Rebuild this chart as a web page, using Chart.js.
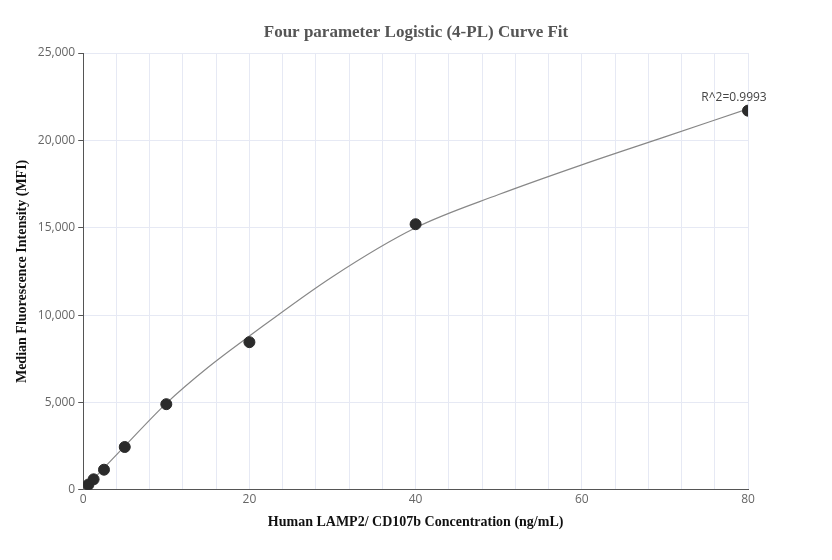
<!DOCTYPE html><html><head><script src="https://cdn.jsdelivr.net/npm/chart.js@4"></script>
<style>body{margin:0;background:#fff}#w{width:832px;height:560px}</style></head><body><div id="w"><canvas id="c"></canvas></div>
<script>
const concX=[0.625,1.25,2.5,5,10,20,40,80];
const mfiY=[300,600,1150,2450,4900,8450,15200,21700];
const curveX=[0,2.5,5,10,15,20,30,40,50,60,70,80];
const curveY=[0,1250,2500,4950,7000,8800,12200,15000,16900,18600,20200,21800];
const rLabel='R^2=0.9993';
const titleText='Four parameter Logistic (4-PL) Curve Fit';
const lbl={id:'lbl',afterDraw(ch){const m=ch.getDatasetMeta(0).data;const p=m[m.length-1];const c=ch.ctx;c.save();c.font='12px "Open Sans", sans-serif';c.fillStyle='#444';c.textAlign='center';c.fillText(rLabel,p.x-14,p.y-10);
c.font='bold 17px "Liberation Serif", serif';c.fillStyle='#555';c.textBaseline='middle';c.fillText(titleText,416,33);c.restore();}};
new Chart(document.getElementById('c'),{type:'scatter',plugins:[lbl],
data:{datasets:[
{data:concX.map((x,i)=>({x,y:mfiY[i]})),backgroundColor:'#2b2b2b',borderColor:'#2b2b2b',pointRadius:5.5,order:0},
{type:'line',data:curveX.map((x,i)=>({x,y:curveY[i]})),borderColor:'#888',borderWidth:1.2,pointRadius:0,tension:0.4,cubicInterpolationMode:'monotone',order:1}]},
options:{responsive:true,maintainAspectRatio:false,animation:false,
layout:{padding:{left:10,right:84,top:53,bottom:25}},
plugins:{legend:{display:false},tooltip:{enabled:false},title:{display:false}},
scales:{
x:{type:'linear',min:0,max:80,ticks:{stepSize:4,autoSkip:false,maxRotation:0,color:'#666',font:{family:'"Open Sans", sans-serif',size:12},callback:v=>v%20===0?v:''},
grid:{color:'#e6e9f4',drawTicks:false},border:{color:'#555'},
title:{display:true,text:'Human LAMP2/ CD107b Concentration (ng/mL)',color:'#111',font:{family:'"Liberation Serif", serif',size:14,weight:'bold'}}},
y:{min:0,max:25000,ticks:{stepSize:5000,color:'#666',font:{family:'"Open Sans", sans-serif',size:12},callback:v=>v.toLocaleString('en-US')},
grid:{color:'#e6e9f4',drawTicks:true,tickColor:'#555',tickLength:5},border:{color:'#555'},
title:{display:true,text:'Median Fluorescence Intensity (MFI)',color:'#111',font:{family:'"Liberation Serif", serif',size:14,weight:'bold'}}}}}});
</script></body></html>
